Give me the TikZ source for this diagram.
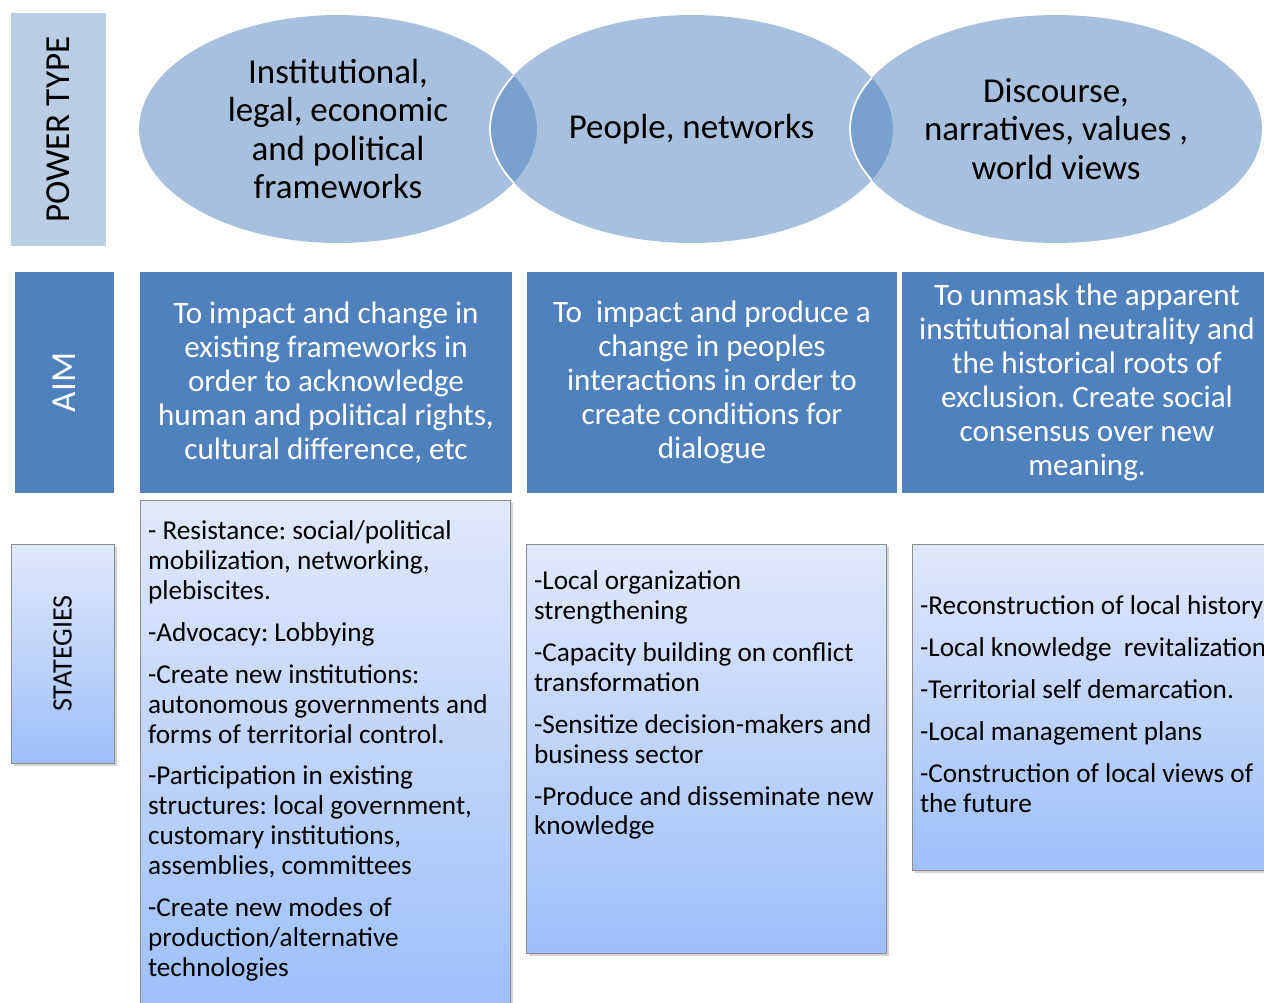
\documentclass[tikz,border=0pt]{standalone}
\usepackage{fontspec}
\setmainfont{Carlito}
\frenchspacing
\usetikzlibrary{positioning,shapes.geometric,shadows}
\definecolor{aimblue}{HTML}{4F81BD}
\definecolor{typeblue}{HTML}{B9CDE5}
\definecolor{gradtop}{RGB}{224,233,251}
\definecolor{gradbottom}{RGB}{158,191,249}
\definecolor{boxline}{RGB}{140,140,140}
\newcommand{\gap}{\\[6.8pt]}

\begin{document}
\begin{tikzpicture}[
    x=0.02cm, y=-0.02cm,
    font=\fontsize{15.5}{17}\selectfont,
    powerframe/.style={
		ellipse,
		fill=aimblue,
		fill opacity=0.5,
		inner sep=0pt,
		minimum height=4.56cm
	},
	powertext/.style={
		align=center,
		inner sep=0pt,
		font=\fontsize{19.9}{21.8}\selectfont
	},
	sidebox/.style={
		rectangle,
		rotate=90,
		inner sep=0pt
	},
	aimbox/.style={
		rectangle,
		fill=aimblue,
		text=white,
		align=center,
		inner sep=0pt,
		minimum height=4.42cm,
		font=\fontsize{17.7}{19.4}\selectfont
	},
	stratbox/.style={
		rectangle,
		draw=boxline,
		top color=gradtop,
		bottom color=gradbottom,
		drop shadow={shadow xshift=1.5pt, shadow yshift=-1.5pt, opacity=0.35},
		inner sep=0pt
	},
	stratlist/.style={
		align=left,
		inner sep=0pt
	}
  ]
  \useasboundingbox (0,0) rectangle (1264,1002);
  \clip (0,0) rectangle (1264,1002);

    % row labels on the left
  \node [sidebox, fill=typeblue, minimum width=4.66cm, minimum height=1.9cm,
         font=\fontsize{20}{22}\selectfont] (powertype) at (58.5,129.5) {POWER TYPE};
  \node [sidebox, fill=aimblue, text=white, minimum width=4.42cm, minimum height=1.98cm,
         font=\fontsize{20}{22}\selectfont] (aim) at (64.5,382.5) {AIM};
  \node [stratbox, rotate=90, minimum width=4.38cm, minimum height=2.06cm,
         font=\fontsize{16}{18}\selectfont] (strategies) at (62.5,653.5) {STATEGIES};

    % power types
  \node [powerframe, minimum width=7.96cm] (type1) at (338,129) {};
  \node [powerframe, minimum width=8.06cm] (type2) at (691.5,129) {};
  \node [powerframe, minimum width=8.24cm] (type3) at (1056,129) {};

  \begin{scope}
    \clip (type1.center) ellipse (199 and 114);
    \draw [white, line width=1pt] (type2.center) ellipse (201.5 and 114);
  \end{scope}
  \begin{scope}
    \clip (type2.center) ellipse (201.5 and 114);
    \draw [white, line width=1pt] (type3.center) ellipse (206 and 114);
  \end{scope}

  \node [powertext] (type1text) at (type1.center)
 {Institutional,\\ legal, economic\\ and political\\ frameworks};
  \node [powertext] (type2text) at (type2.center)
 {People, networks};
  \node [powertext] (type3text) at (type3.center)
 {Discourse,\\ narratives, values {,}\\ world views};

    % aims
  \node [aimbox, minimum width=7.44cm] (aim1) at (326,382.5)
 {To impact and change in\\ existing frameworks in\\ order to acknowledge\\ human and political rights,\\ cultural difference, etc};
  \node [aimbox, minimum width=7.4cm] (aim2) at (712,382.5)
 {To\ \ impact and produce a\\ change in peoples\\ interactions in order to\\ create conditions for\\ dialogue};
  \node [aimbox, minimum width=7.4cm] (aim3) at (1087,382.5)
 {To unmask the apparent\\ institutional neutrality and\\ the historical roots of\\ exclusion. Create social\\ consensus over new\\ meaning.};

    % strategies
  \node [stratbox, minimum width=7.4cm, minimum height=10.2cm] (strat1) at (325,755) {};
  \node [stratbox, minimum width=7.2cm, minimum height=8.18cm] (strat2) at (706,748.5) {};
  \node [stratbox, minimum width=7.2cm, minimum height=6.52cm] (strat3) at (1092,707) {};

  \node [stratlist, below right=0.42cm and 0.16cm of strat1.north west] (list1)
 {- Resistance: social/political\\ mobilization, networking,\\ plebiscites.\gap
  -Advocacy: Lobbying\gap
  -Create new institutions:\\ autonomous governments and\\ forms of territorial control.\gap
  -Participation in existing\\ structures: local government,\\ customary institutions,\\ assemblies, committees\gap
  -Create new modes of\\ production/alternative\\ technologies};
  \node [stratlist, below right=0.54cm and 0.16cm of strat2.north west] (list2)
 {-Local organization\\ strengthening\gap
  -Capacity building on conflict\\ transformation\gap
  -Sensitize decision-makers and\\ business sector\gap
  -Produce and disseminate new\\ knowledge};
  \node [stratlist, below right=1.04cm and 0.16cm of strat3.north west] (list3)
 {-Reconstruction of local history\gap
  -Local knowledge\ \ revitalization\gap
  -Territorial self demarcation.\gap
  -Local management plans\gap
  -Construction of local views of\\ the future};

\end{tikzpicture}
\end{document}
